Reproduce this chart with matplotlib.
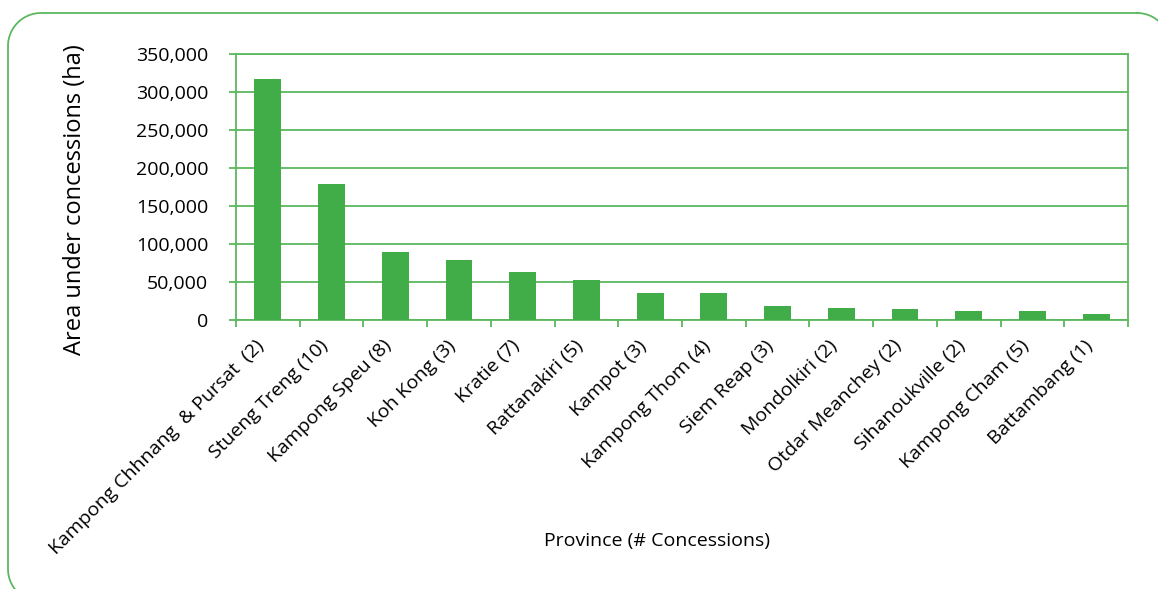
import matplotlib
matplotlib.use("Agg")
import numpy as np
import matplotlib.pyplot as plt
from matplotlib.lines import Line2D
from matplotlib.ticker import FuncFormatter, FixedLocator

# Data
provinces = [
    "Kampong Chhnang  & Pursat  (2)", "Stueng Treng (10)", "Kampong Speu (8)",
    "Koh Kong (3)", "Kratie (7)", "Rattanakiri (5)", "Kampot (3)",
    "Kampong Thom (4)", "Siem Reap (3)", "Mondolkiri (2)",
    "Otdar Meanchey (2)", "Sihanoukville (2)", "Kampong Cham (5)",
    "Battambang (1)",
]
area_ha = [317000, 179000, 89500, 79000, 63000, 52500, 35500,
           35500, 18500, 16000, 14500, 12000, 12000, 8000]
y_ticks = [0, 50000, 100000, 150000, 200000, 250000, 300000, 350000]

green = "#41ad49"
line_green = "#5cb85f"

plt.rcParams["font.family"] = ["Open Sans", "DejaVu Sans"]

W, H = 1158, 589
fig = plt.figure(figsize=(W / 100, H / 100), dpi=100)


def rounded_frame(l, t, r, b, rad):
    """outline of a rounded rectangle in figure fractions (pixels in, y down)"""
    xs, ys = [], []
    corners = [(r - rad, t + rad, 90, 0), (r - rad, b - rad, 0, -90),
               (l + rad, b - rad, 270, 180), (l + rad, t + rad, 180, 90)]
    for cx, cy, a0, a1 in corners:
        a = np.radians(np.linspace(a0, a1, 20))
        xs.extend(cx + rad * np.cos(a))
        ys.extend(cy - rad * np.sin(a))
    xs.append(xs[0])
    ys.append(ys[0])
    return np.array(xs) / W, 1 - np.array(ys) / H


fx, fy = rounded_frame(8, 13, 1170, 602, 33)
fig.add_artist(Line2D(fx, fy, transform=fig.transFigure, color=line_green,
                      linewidth=1.3))

ax = fig.add_axes([236 / W, 1 - 320 / H, (1128 - 236) / W, (320 - 54) / H])

x = list(range(len(provinces)))
ax.bar(x, area_ha, width=0.42, color=green, zorder=3)

ax.set_xlim(-0.5, len(provinces) - 0.5)
ax.set_ylim(0, 350000)
ax.set_yticks(y_ticks)
ax.yaxis.set_major_formatter(FuncFormatter(lambda v, p: f"{int(v):,}"))
ax.grid(axis="y", color=line_green, linewidth=1.3, zorder=0)

ax.set_xticks(x)
ax.set_xticklabels(provinces, rotation=45, ha="right", va="top",
                   fontsize=14)
ax.xaxis.set_minor_locator(FixedLocator([i - 0.5 for i in range(len(provinces) + 1)]))
ax.tick_params(axis="x", which="major", length=0, pad=12)
ax.tick_params(axis="x", which="minor", length=5, color=line_green, width=1.3)
ax.tick_params(axis="y", length=5, color=line_green, width=1.3,
               labelsize=14, pad=15)

for s in ax.spines.values():
    s.set_color(line_green)
    s.set_linewidth(1.3)

fig.text(75 / W, 1 - 200 / H, "Area under concessions (ha)", fontsize=17,
         rotation=90, ha="center", va="center")
fig.text(657 / W, 1 - 541 / H, "Province (# Concessions)", fontsize=14,
         ha="center", va="center")

fig.savefig("out.png", dpi=100)
